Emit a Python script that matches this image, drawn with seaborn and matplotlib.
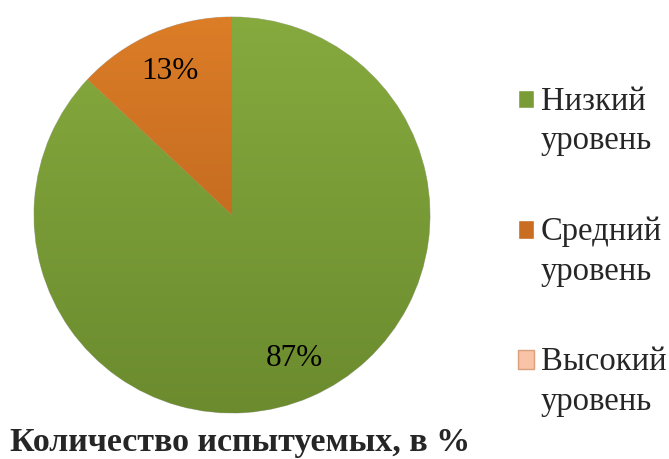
import numpy as np
import matplotlib
matplotlib.use("Agg")
import matplotlib.pyplot as plt
import seaborn as sns
from matplotlib.patches import Patch, Rectangle
from matplotlib.legend_handler import HandlerPatch
from matplotlib.colors import LinearSegmentedColormap

categories = ["Низкий уровень", "Средний уровень", "Высокий уровень"]
legend_labels = ["Низкий\nуровень", "Средний\nуровень", "Высокий\nуровень"]
values = [87, 13, 0]
title = "Количество испытуемых, в %"

sns.set_theme(style="white")
plt.rcParams['font.family'] = ['Liberation Serif', 'DejaVu Serif']

top_colors = ["#86aa3e", "#dc7d27", "#f8c3a6"]
bot_colors = ["#6b8b2e", "#b05d1b", "#f0b090"]
mid_colors = ["#7a9c37", "#c96d22", "#f8c3a6"]

fig = plt.figure(figsize=(6.69, 4.59), dpi=100)
ax = fig.add_axes([32/669, 44/459, 400/669, 400/459])

wedges, texts, autotexts = ax.pie(
    values, colors=mid_colors, startangle=90, counterclock=False,
    radius=1.0, autopct=lambda p: f"{p:.0f}%" if p > 0 else "",
    pctdistance=0.79,
    wedgeprops=dict(edgecolor="#bdbdbd", linewidth=0.6),
    textprops=dict(fontsize=22.5, color="black"))

# vertical gradient fill clipped to each wedge
grad = np.linspace(0, 1, 256).reshape(-1, 1)
for w, tc, bc in zip(wedges, top_colors, bot_colors):
    cmap = LinearSegmentedColormap.from_list("g", [bc, tc])
    im = ax.imshow(grad, cmap=cmap, extent=[-1, 1, -1, 1], origin="lower",
                   aspect="auto", zorder=w.get_zorder() + 0.1)
    im.set_clip_path(w)
for t in autotexts:
    t.set_zorder(10)

ax.set_xlim(-1.01, 1.01)
ax.set_ylim(-1.01, 1.01)
ax.set_aspect("equal")
ax.axis("off")


def top_square(legend, orig_handle, xdescent, ydescent, width, height, fontsize):
    return Rectangle((-xdescent, -ydescent + 16), width, height)


handles = [Patch(facecolor=c, edgecolor="#d9a07a" if i == 2 else "white", linewidth=1)
           for i, c in enumerate(mid_colors)]
leg = fig.legend(handles, legend_labels, loc="upper left",
                 bbox_to_anchor=(518/669, 1 - 86/459), frameon=False,
                 fontsize=23.5, handlelength=0.5, handleheight=0.5,
                 handletextpad=0.2, labelspacing=1.83, borderaxespad=0,
                 borderpad=0,
                 handler_map={Patch: HandlerPatch(patch_func=top_square)})
for t in leg.get_texts():
    t.set_linespacing(1.4)

fig.text(240/669, 1 - 443/459, title, ha="center", va="center",
         fontsize=24.5, fontweight="bold")

fig.savefig("out.png", dpi=100)
